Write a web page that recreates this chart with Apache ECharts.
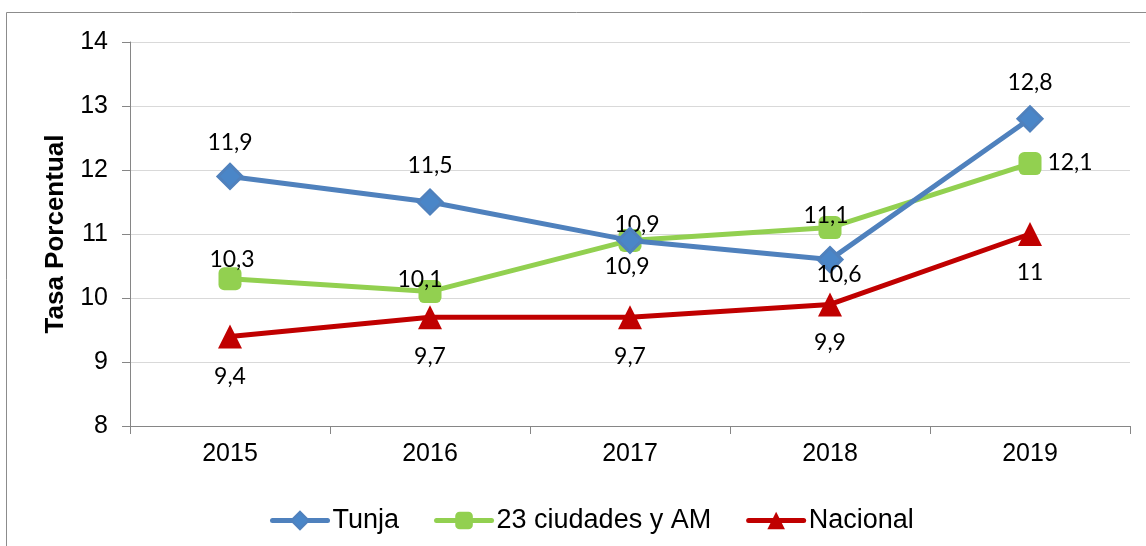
<!DOCTYPE html>
<html>
<head>
<meta charset="utf-8">
<script src="https://cdn.jsdelivr.net/npm/echarts@6/dist/echarts.min.js"></script>
<style>
html,body{margin:0;padding:0;background:#fff;}
#chart{width:1146px;height:546px;}
</style>
</head>
<body>
<div id="chart"></div>
<script>
var years = ['2015', '2016', '2017', '2018', '2019'];
var tunja = [11.9, 11.5, 10.9, 10.6, 12.8];
var ciudades = [10.3, 10.1, 10.9, 11.1, 12.1];
var nacional = [9.4, 9.7, 9.7, 9.9, 11];
var seriesNames = ['Tunja', '23 ciudades y AM', 'Nacional'];

// label placement (style only)
var tunjaOff = [[0,-34],[0,-36],[-3,26],[9,15],[0,-36]];
var ciudadesOff = [[2,-19],[-10,-12],[7,-16],[-4,-12],[40,-1]];
var nacionalOff = [[0,40],[0,39],[0,39],[0,38],[0,39]];

function fmt(v){ return String(v).replace('.', ','); }
function build(vals, offs){
  return vals.map(function(v, i){
    return {value: v, label: {offset: offs[i]}};
  });
}
var labelBase = {
  show: true, position: 'inside',
  fontFamily: 'Lato', fontSize: 23, color: '#000',
  formatter: function(p){ return fmt(p.value); }
};

var chart = echarts.init(document.getElementById('chart'), null, {renderer: 'canvas'});
chart.setOption({
  animation: false,
  backgroundColor: '#fff',
  graphic: [{
    type: 'rect', shape: {x: 6.5, y: 12.5, width: 1300, height: 700},
    style: {fill: 'none', stroke: '#8c8c8c', lineWidth: 1}, silent: true, z: -10
  }],
  grid: {left: 130, right: 16, top: 42, bottom: 120},
  legend: {
    data: seriesNames,
    left: 265, top: 502,
    itemWidth: 55, itemHeight: 22, itemGap: 35,
    lineStyle: {width: 5, cap: 'round'},
    textStyle: {fontFamily: 'Liberation Sans, Arial', fontSize: 27, color: '#000'}
  },
  xAxis: {
    type: 'category', data: years, boundaryGap: true,
    axisLine: {lineStyle: {color: '#868686', width: 1}},
    axisTick: {show: true, length: 8, alignWithLabel: false, lineStyle: {color: '#868686'}},
    axisLabel: {fontFamily: 'Liberation Sans, Arial', fontSize: 25, color: '#000', margin: 16}
  },
  yAxis: {
    type: 'value', min: 8, max: 14, interval: 1,
    name: 'Tasa Porcentual', nameLocation: 'middle', nameGap: 60,
    nameTextStyle: {fontFamily: 'Liberation Sans, Arial', fontSize: 26, fontWeight: 'bold', color: '#000'},
    axisLine: {show: true, lineStyle: {color: '#868686', width: 1}},
    axisTick: {show: true, length: 8, lineStyle: {color: '#868686'}},
    axisLabel: {fontFamily: 'Liberation Sans, Arial', fontSize: 25, color: '#000', margin: 22},
    splitLine: {lineStyle: {color: '#d9d9d9', width: 1}}
  },
  series: [
    {
      name: seriesNames[0], type: 'line', data: build(tunja, tunjaOff),
      symbol: 'diamond', symbolSize: 24, z: 3,
      lineStyle: {color: '#4F81BD', width: 5},
      itemStyle: {color: '#4A86C8', borderColor: '#4F81BD', borderWidth: 3},
      label: labelBase
    },
    {
      name: seriesNames[1], type: 'line', data: build(ciudades, ciudadesOff),
      symbol: 'roundRect', symbolSize: 23, z: 2,
      lineStyle: {color: '#92D050', width: 5},
      itemStyle: {color: '#92D050'},
      label: labelBase
    },
    {
      name: seriesNames[2], type: 'line', data: build(nacional, nacionalOff),
      symbol: 'triangle', symbolSize: 24, z: 1,
      lineStyle: {color: '#C00000', width: 5},
      itemStyle: {color: '#C00000'},
      label: labelBase
    }
  ]
});
</script>
</body>
</html>
